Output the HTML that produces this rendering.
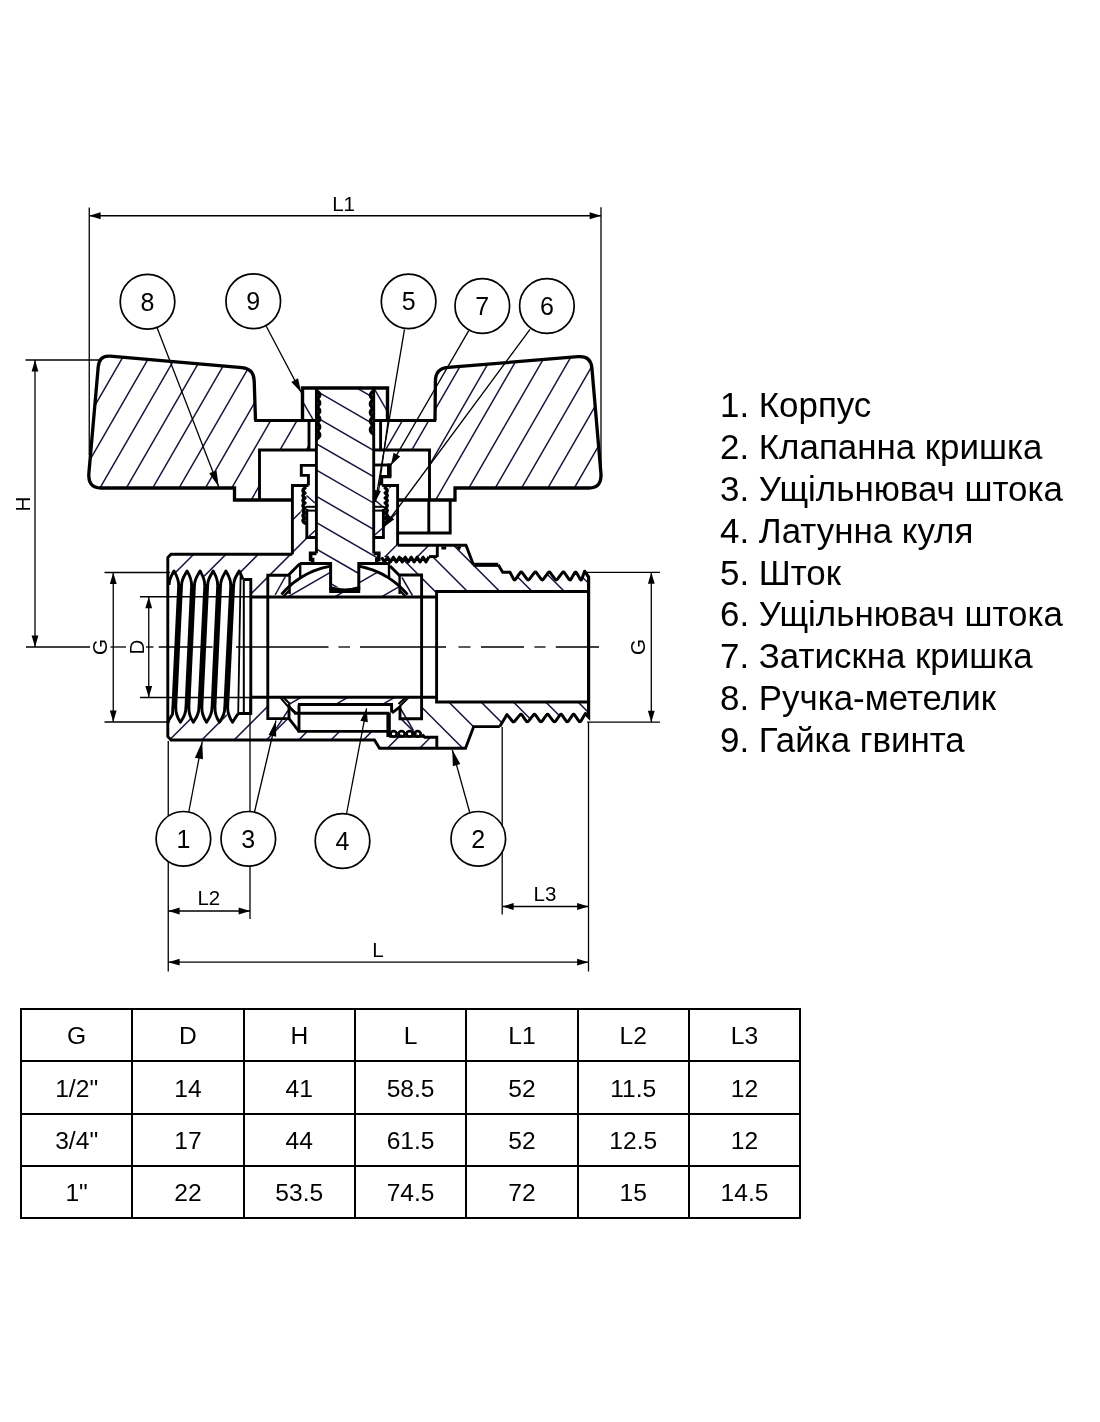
<!DOCTYPE html>
<html lang="uk"><head><meta charset="utf-8"><title>Кран кульовий</title>
<style>
html,body{margin:0;padding:0;background:#fff;}
body{width:1100px;height:1422px;position:relative;overflow:hidden;font-family:"Liberation Sans",Arial,sans-serif;color:#000;}
#dwg{position:absolute;left:0;top:0;will-change:transform;}
#dwg text{font-family:"Liberation Sans",Arial,sans-serif;fill:#000;}
#legend{position:absolute;left:720px;top:384.3px;margin:0;padding:0;list-style:none;font-size:34.9px;line-height:41.9px;white-space:nowrap;letter-spacing:0;will-change:transform;}
#legend li{margin:0;padding:0;height:41.9px;}
#spec{position:absolute;left:20.2px;top:1007.8px;border-collapse:collapse;table-layout:fixed;width:781.2px;height:211.3px;will-change:transform;}
#spec td{border:2px solid #000;padding:0;text-align:center;vertical-align:middle;font-size:24.6px;line-height:1;}
#spec td span{position:relative;top:1.5px;}
</style></head><body>
<svg id="dwg" width="1100" height="1422" viewBox="0 0 1100 1422">
<defs>
<clipPath id="c1"><polygon points="255.5,420.5 254.2,380 253,373 249,369.2 244,367.9 109,356.1 103.5,356.8 99.6,360.5 98.3,366 88.9,474 89.8,481 93.5,486 99.5,488 234.5,488 234.5,500 259.5,500 259.5,450 309,450 309,420.5"/></clipPath>
<clipPath id="c2"><polygon points="435,420.5 435.4,380 436.6,373.5 440.5,369.3 446,367.6 579,356.6 585,357.2 589.6,360.8 591.7,366.5 600.9,474 600,481 596.5,486 590.5,488 455,488 455,500 429.5,500 429.5,450 381,450 381,420.5"/></clipPath>
<clipPath id="c3"><polygon points="316.4,387.6 373.7,387.6 373.7,553.4 379.3,553.4 379.3,560 377,560 377,564 358.6,564 358.6,587.5 330.8,587.5 330.8,564 312.5,564 312.5,560 310.1,560 310.1,553.4 316.4,553.4"/></clipPath>
<clipPath id="c4"><polygon points="302,387.6 316.4,387.6 316.4,420.5 302,420.5"/></clipPath>
<clipPath id="c5"><polygon points="373.7,387.6 388,387.6 388,420.5 373.7,420.5"/></clipPath>
<clipPath id="c6"><polygon points="167.8,557.5 171,554.2 292.4,554.2 292.4,485.5 300.7,485.5 300.7,523 306.6,523 306.6,537.5 316.4,537.5 316.4,553.4 310.1,553.4 310.1,560 312.5,560 312.5,564 299.5,564 288.3,575.3 267.8,575.3 267.8,597 251,597 251,579.5 243.6,579.5 243.6,576 239.2,571 232.5,579.4 225.9,571 219.4,579.4 213.2,571 206.5,579.4 200.1,571 193.3,579.4 187.1,571 180.4,579.4 174,571 167.8,575"/></clipPath>
<clipPath id="c7"><polygon points="389.4,485.5 397.6,485.5 397.6,545.2 437.3,545.2 437.3,557 379.3,557 379.3,553.4 373.7,553.4 373.7,537.5 383.5,537.5 383.5,523 389.4,523"/></clipPath>
<clipPath id="c8"><polygon points="167.8,736.5 171,740 374.5,740 379.5,748.3 436.8,748.3 436.8,737.2 424.7,737.2 422.2,734.5 388.5,734.5 388.5,731.4 299,731.4 289,718.6 267.8,718.6 267.8,697.3 250.6,697.3 250.6,713.5 243.5,713.5 238,713.8 232.5,722 225.9,713.8 219.4,722 213.2,713.8 206.5,722 200.1,713.8 193.3,722 187.1,713.8 180.4,722 174,713.8 167.8,720"/></clipPath>
<clipPath id="c9"><polygon points="437.3,545.2 466,545.2 473.4,564.8 498.2,564.8 502.7,572.3 510,572.3 514.5,580.8 521.2,571.2 528.2,580.8 535.4,571.2 542.3,580.8 549.2,571.2 556.2,580.8 563.4,571.2 570,580.8 575.6,571.2 581.2,580.8 584.6,571.2 588.6,577 588.6,591.5 436.6,591.5 436.6,597 421.6,597 421.6,575 399,575 390,566 390,557 437.3,557"/></clipPath>
<clipPath id="c10"><polygon points="436.8,748.3 465.5,748.3 473.7,726.6 499.8,726.6 507,714.6 513.6,722.6 521,713.6 527.3,722.6 534.5,713.6 541,722.6 547.5,713.6 554.5,722.6 561,713.6 567.3,722.6 573.6,713.6 580,722.6 585.4,713.6 588.6,717 588.6,702 436.4,702 436.4,697.2 421.5,697.2 421.5,718.7 400,718.7 391.6,729 391.6,734.5 422.2,734.5 424.7,737.2 436.8,737.2"/></clipPath>
<clipPath id="c11"><polygon points="280.3,597 283.91,591.75 287.51,588.04 291.12,584.75 294.73,581.83 298.34,579.23 301.94,576.91 305.55,574.84 309.16,573.01 312.76,571.39 316.37,569.98 319.98,568.75 323.59,567.71 327.19,566.85 330.8,566.15 330.8,591.5 358.6,591.5 358.6,566.22 362.17,566.93 365.74,567.8 369.31,568.84 372.89,570.07 376.46,571.48 380.03,573.1 383.6,574.92 387.17,576.98 390.74,579.28 394.31,581.87 397.89,584.76 401.46,588.01 405.03,591.68 408.6,595.86 408.6,597"/></clipPath>
<clipPath id="c12"><polygon points="282,697.3 407,697.3 399,705 392,705 392,704.5 298,704.5 289,706"/></clipPath>
</defs>
<path d="M58.22,469.09 L150.67,308.96 M77.98,480.5 L170.43,320.37 M97.74,491.91 L190.19,331.78 M117.5,503.32 L209.95,343.19 M137.27,514.73 L229.72,354.6 M157.03,526.14 L249.48,366.01 M176.79,537.55 L269.24,377.42 M196.55,548.96 L289.01,388.83 M216.32,560.37 L308.77,400.24 M236.08,571.78 L328.53,411.65" stroke="#19173f" stroke-width="1.5" fill="none" clip-path="url(#c1)"/>
<path d="M373.31,471.02 L477.02,291.39 M393.07,482.43 L496.78,302.8 M412.83,493.84 L516.54,314.21 M432.59,505.25 L536.3,325.62 M452.36,516.66 L556.07,337.03 M472.12,528.07 L575.83,348.44 M491.88,539.48 L595.59,359.85 M511.64,550.89 L615.35,371.26 M531.41,562.3 L635.12,382.67" stroke="#19173f" stroke-width="1.5" fill="none" clip-path="url(#c2)"/>
<path d="M323.71,368.94 L450.74,442.28 M312.31,388.68 L439.34,462.02 M300.91,408.43 L427.94,481.77 M289.51,428.18 L416.54,501.52 M278.11,447.92 L405.14,521.26 M266.71,467.67 L393.74,541.01 M255.31,487.41 L382.34,560.75 M243.91,507.16 L370.94,580.5 M232.51,526.9 L359.54,600.24" stroke="#19173f" stroke-width="1.5" fill="none" clip-path="url(#c3)"/>
<path d="M294.96,388.2 L315.8,424.31" stroke="#19173f" stroke-width="1.5" fill="none" clip-path="url(#c4)"/>
<path d="M372.12,385.05 L392.94,421.11" stroke="#19173f" stroke-width="1.5" fill="none" clip-path="url(#c5)"/>
<path d="M168.28,579.72 L283.72,464.28 M184.43,595.87 L299.87,480.43 M200.58,612.02 L316.02,496.58 M216.73,628.17 L332.17,512.73 M232.88,644.32 L348.32,528.88" stroke="#19173f" stroke-width="1.5" fill="none" clip-path="url(#c6)"/>
<path d="M346.63,530.57 L396.77,480.43 M362.78,546.72 L412.92,496.58 M378.93,562.87 L429.07,512.73 M395.08,579.02 L445.22,528.88" stroke="#19173f" stroke-width="1.5" fill="none" clip-path="url(#c7)"/>
<path d="M168.13,741.37 L306.67,602.83 M184.28,757.52 L322.82,618.98 M200.43,773.67 L338.97,635.13 M216.58,789.82 L355.12,651.28 M232.73,805.97 L371.27,667.43 M248.88,822.12 L387.42,683.58 M265.03,838.27 L403.57,699.73 M281.18,854.43 L419.73,715.88 M297.33,870.58 L435.88,732.03" stroke="#19173f" stroke-width="1.5" fill="none" clip-path="url(#c8)"/>
<path d="M473.98,468.78 L594.77,589.57 M457.83,484.93 L578.62,605.72 M441.68,501.08 L562.47,621.87 M425.53,517.23 L546.32,638.02 M409.38,533.38 L530.17,654.17 M393.23,549.53 L514.02,670.32" stroke="#19173f" stroke-width="1.5" fill="none" clip-path="url(#c9)"/>
<path d="M495.23,619.23 L592.92,716.92 M479.08,635.38 L576.77,733.07 M462.93,651.53 L560.62,749.22 M446.78,667.68 L544.47,765.37 M430.63,683.83 L528.32,781.52 M414.48,699.98 L512.17,797.67 M398.33,716.13 L496.02,813.82" stroke="#19173f" stroke-width="1.5" fill="none" clip-path="url(#c10)"/>
<path d="M279.55,601.7 L381.47,542.86 M291.25,621.97 L393.17,563.13 M302.95,642.23 L404.87,583.39" stroke="#19173f" stroke-width="1.5" fill="none" clip-path="url(#c11)"/>
<path d="M284.2,707.1 L383.14,649.98 M295.9,727.37 L394.84,670.24 M307.6,747.63 L406.54,690.51" stroke="#19173f" stroke-width="1.5" fill="none" clip-path="url(#c12)"/>
<line x1="89.25" y1="207.5" x2="89.25" y2="455" stroke="#000" stroke-width="1.3" />
<line x1="601" y1="207.3" x2="601" y2="476" stroke="#000" stroke-width="1.3" />
<line x1="89.25" y1="215.75" x2="601" y2="215.75" stroke="#000" stroke-width="1.3" />
<polygon points="89.25,215.75 100.65,212.35 100.65,219.15" fill="#000"/>
<polygon points="601,215.75 589.6,219.15 589.6,212.35" fill="#000"/>
<text x="343.6" y="211" font-size="20.5" text-anchor="middle">L1</text>
<line x1="25.5" y1="360" x2="100" y2="360" stroke="#000" stroke-width="1.3" />
<line x1="26" y1="647" x2="90" y2="647" stroke="#000" stroke-width="1.3" />
<line x1="35" y1="360" x2="35" y2="647" stroke="#000" stroke-width="1.3" />
<polygon points="35,360 38.4,371.4 31.6,371.4" fill="#000"/>
<polygon points="35,647 31.6,635.6 38.4,635.6" fill="#000"/>
<text x="29.5" y="504" font-size="20.5" text-anchor="middle" transform="rotate(-90 29.5 504)">H</text>
<line x1="104.5" y1="572.5" x2="170" y2="572.5" stroke="#000" stroke-width="1.3" />
<line x1="104.5" y1="722" x2="170" y2="722" stroke="#000" stroke-width="1.3" />
<line x1="113.25" y1="572.5" x2="113.25" y2="722" stroke="#000" stroke-width="1.3" />
<polygon points="113.25,572.5 116.65,583.9 109.85,583.9" fill="#000"/>
<polygon points="113.25,722 109.85,710.6 116.65,710.6" fill="#000"/>
<text x="107" y="647" font-size="20.5" text-anchor="middle" transform="rotate(-90 107 647)">G</text>
<line x1="140" y1="596.75" x2="251" y2="596.75" stroke="#000" stroke-width="1.3" />
<line x1="140" y1="697.5" x2="251" y2="697.5" stroke="#000" stroke-width="1.3" />
<line x1="148.75" y1="596.75" x2="148.75" y2="697.5" stroke="#000" stroke-width="1.3" />
<polygon points="148.75,596.75 152.15,608.15 145.35,608.15" fill="#000"/>
<polygon points="148.75,697.5 145.35,686.1 152.15,686.1" fill="#000"/>
<text x="143.7" y="647" font-size="20.5" text-anchor="middle" transform="rotate(-90 143.7 647)">D</text>
<line x1="587" y1="572.4" x2="660" y2="572.4" stroke="#000" stroke-width="1.3" />
<line x1="587" y1="722.2" x2="660" y2="722.2" stroke="#000" stroke-width="1.3" />
<line x1="651.3" y1="572.4" x2="651.3" y2="722.2" stroke="#000" stroke-width="1.3" />
<polygon points="651.3,572.4 654.7,583.8 647.9,583.8" fill="#000"/>
<polygon points="651.3,722.2 647.9,710.8 654.7,710.8" fill="#000"/>
<text x="645" y="647" font-size="20.5" text-anchor="middle" transform="rotate(-90 645 647)">G</text>
<line x1="110.5" y1="647" x2="126" y2="647" stroke="#000" stroke-width="1.3" />
<line x1="146" y1="647" x2="153.5" y2="647" stroke="#000" stroke-width="1.3" />
<line x1="158.75" y1="647" x2="212.5" y2="647" stroke="#000" stroke-width="1.3" />
<line x1="236" y1="647" x2="328.5" y2="647" stroke="#000" stroke-width="1.3" />
<line x1="338.5" y1="647" x2="350" y2="647" stroke="#000" stroke-width="1.3" />
<line x1="360" y1="647" x2="446" y2="647" stroke="#000" stroke-width="1.3" />
<line x1="458.5" y1="647" x2="470.5" y2="647" stroke="#000" stroke-width="1.3" />
<line x1="481" y1="647" x2="524" y2="647" stroke="#000" stroke-width="1.3" />
<line x1="534.4" y1="647" x2="545.5" y2="647" stroke="#000" stroke-width="1.3" />
<line x1="555.8" y1="647" x2="599" y2="647" stroke="#000" stroke-width="1.3" />
<line x1="168.25" y1="741" x2="168.25" y2="971.5" stroke="#000" stroke-width="1.3" />
<line x1="250" y1="698" x2="250" y2="919" stroke="#000" stroke-width="1.3" />
<line x1="168.25" y1="911" x2="250" y2="911" stroke="#000" stroke-width="1.3" />
<polygon points="168.25,911 179.65,907.6 179.65,914.4" fill="#000"/>
<polygon points="250,911 238.6,914.4 238.6,907.6" fill="#000"/>
<text x="208.8" y="904.7" font-size="20.5" text-anchor="middle">L2</text>
<line x1="502.2" y1="727" x2="502.2" y2="914.5" stroke="#000" stroke-width="1.3" />
<line x1="588.5" y1="722" x2="588.5" y2="971.5" stroke="#000" stroke-width="1.3" />
<line x1="502.2" y1="906.5" x2="588.5" y2="906.5" stroke="#000" stroke-width="1.3" />
<polygon points="502.2,906.5 513.6,903.1 513.6,909.9" fill="#000"/>
<polygon points="588.5,906.5 577.1,909.9 577.1,903.1" fill="#000"/>
<text x="545" y="901" font-size="20.5" text-anchor="middle">L3</text>
<line x1="168.25" y1="962.2" x2="588.5" y2="962.2" stroke="#000" stroke-width="1.3" />
<polygon points="168.25,962.2 179.65,958.8 179.65,965.6" fill="#000"/>
<polygon points="588.5,962.2 577.1,965.6 577.1,958.8" fill="#000"/>
<text x="378" y="956.8" font-size="20.5" text-anchor="middle">L</text>
<path d="M255.5,420.5 L254.2,381 Q253.8,368.8 242,367.7 L110,356.1 Q99.3,355.2 98.2,367 L88.9,473 Q87.6,488 101,488 L234.5,488 L234.5,500 L292.4,500" fill="none" stroke="#000" stroke-width="3.3" stroke-linejoin="miter"/>
<path d="M435,420.5 L435.4,381 Q435.6,368.4 448,367.4 L578,356.7 Q590.8,355.6 591.9,368 L600.9,473 Q602.2,488 589,488 L455,488 L455,500 L397.6,500" fill="none" stroke="#000" stroke-width="3.3" stroke-linejoin="miter"/>
<polyline points="254.3,420.5 316.4,420.5" fill="none" stroke="#000" stroke-width="2.9" stroke-linejoin="miter"/>
<polyline points="309,420.5 309,450" fill="none" stroke="#000" stroke-width="2.9" stroke-linejoin="miter"/>
<polyline points="436.2,420.5 373.7,420.5" fill="none" stroke="#000" stroke-width="2.9" stroke-linejoin="miter"/>
<polyline points="380.6,420.5 380.6,450" fill="none" stroke="#000" stroke-width="2.9" stroke-linejoin="miter"/>
<polyline points="259.5,500 259.5,450 316.4,450" fill="none" stroke="#000" stroke-width="2.9" stroke-linejoin="miter"/>
<polyline points="429.5,500 429.5,450 373.7,450" fill="none" stroke="#000" stroke-width="2.9" stroke-linejoin="miter"/>
<polyline points="397.6,533 450.2,533 450.2,500" fill="none" stroke="#000" stroke-width="2.9" stroke-linejoin="miter"/>
<line x1="428.8" y1="500" x2="428.8" y2="533" stroke="#000" stroke-width="2.9" />
<polyline points="302.5,420.5 302.5,388 387.5,388 387.5,420.5" fill="none" stroke="#000" stroke-width="3.4" stroke-linejoin="miter"/>
<polyline points="316.4,387.6 316.4,553.4" fill="none" stroke="#000" stroke-width="2.9" stroke-linejoin="miter"/>
<polyline points="373.7,387.6 373.7,553.4" fill="none" stroke="#000" stroke-width="2.9" stroke-linejoin="miter"/>
<polyline points="316.4,553.4 310.6,553.4 310.6,559.5 312.6,559.5 312.6,564" fill="none" stroke="#000" stroke-width="3.6" stroke-linejoin="miter"/>
<polyline points="373.7,553.4 378.8,553.4 378.8,559.5 376.8,559.5 376.8,564" fill="none" stroke="#000" stroke-width="3.6" stroke-linejoin="miter"/>
<polyline points="299.8,563.6 330.6,563.6 330.6,590" fill="none" stroke="#000" stroke-width="3" stroke-linejoin="miter"/>
<polyline points="358.8,590 358.8,563.6 390,563.6" fill="none" stroke="#000" stroke-width="3" stroke-linejoin="miter"/>
<path d="M329.2,593 L329.2,586.6 L332,586.6 Q344.8,590.6 357.4,586.6 L360.2,586.6 L360.2,593 Z" fill="#000"/>
<path d="M316.8,391 Q322.6,395 316.8,399 Q322.6,403 316.8,407 Q322.6,411 316.8,415 Q322.6,419 316.8,423 Q322.6,427 316.8,431 Q322.6,435 316.8,439" fill="none" stroke="#000" stroke-width="3.4" stroke-linejoin="round" stroke-linecap="round"/>
<path d="M373.3,391 Q367.5,395.3 373.3,399.6 Q367.5,403.9 373.3,408.2 Q367.5,412.5 373.3,416.8 Q367.5,421.1 373.3,425.4 Q367.5,429.7 373.3,434" fill="none" stroke="#000" stroke-width="3.4" stroke-linejoin="round" stroke-linecap="round"/>
<polyline points="316.4,465.4 301.3,465.4 301.3,475.4 308.4,475.4 308.4,485.5" fill="none" stroke="#000" stroke-width="2.9" stroke-linejoin="miter"/>
<polyline points="373.7,465 391,465" fill="none" stroke="#000" stroke-width="2.9" stroke-linejoin="miter"/>
<polyline points="389.3,463.6 389.3,476.4" fill="none" stroke="#000" stroke-width="4.6" stroke-linejoin="miter"/>
<polyline points="391.4,476.6 381.6,476.6 381.6,485.5" fill="none" stroke="#000" stroke-width="3.2" stroke-linejoin="miter"/>
<polyline points="308.4,485.5 292.4,485.5 292.4,554.2" fill="none" stroke="#000" stroke-width="2.9" stroke-linejoin="miter"/>
<polyline points="382.2,485.5 397.6,485.5 397.6,545.2" fill="none" stroke="#000" stroke-width="2.9" stroke-linejoin="miter"/>
<path d="M304.9,488 Q301.1,490.5 304.9,493 Q301.1,495.5 304.9,498 Q301.1,500.5 304.9,503 Q301.1,505.5 304.9,508 Q301.1,510.5 304.9,513 Q301.1,515.5 304.9,518 Q301.1,520.5 304.9,523" fill="none" stroke="#000" stroke-width="3.6" stroke-linejoin="round" stroke-linecap="round"/>
<path d="M385.3,488 Q389.1,490.5 385.3,493 Q389.1,495.5 385.3,498 Q389.1,500.5 385.3,503 Q389.1,505.5 385.3,508 Q389.1,510.5 385.3,513 Q389.1,515.5 385.3,518 Q389.1,520.5 385.3,523" fill="none" stroke="#000" stroke-width="3.6" stroke-linejoin="round" stroke-linecap="round"/>
<polyline points="306.8,509 306.8,537.5 316.4,537.5" fill="none" stroke="#000" stroke-width="2.9" stroke-linejoin="miter"/>
<polyline points="383.4,509 383.4,537.5 373.7,537.5" fill="none" stroke="#000" stroke-width="2.9" stroke-linejoin="miter"/>
<line x1="306" y1="506.8" x2="316.4" y2="506.8" stroke="#000" stroke-width="2" />
<line x1="306" y1="510.6" x2="316.4" y2="510.6" stroke="#000" stroke-width="2" />
<line x1="373.7" y1="506.8" x2="384.2" y2="506.8" stroke="#000" stroke-width="2" />
<line x1="373.7" y1="510.6" x2="384.2" y2="510.6" stroke="#000" stroke-width="2" />
<path d="M306.5,495.5 L315,503 M308.2,537 L315.2,530.5 M375.5,500.7 L382,506 M374.8,535 L382.6,528" stroke="#19173f" stroke-width="1.5" fill="none"/>
<path d="M275.1,595 L285.3,576.7 M402,577.5 L412.5,595.5 M276.2,728.6 L288,710.5 M400.8,709 L413.3,730.2" stroke="#19173f" stroke-width="1.5" fill="none"/>
<polyline points="292.4,554.2 171,554.2 167.8,557.5 167.8,736.5 171,740 374.5,740 379.5,748.3 465.5,748.3 473.7,726.6 499.8,726.6" fill="none" stroke="#000" stroke-width="2.9" stroke-linejoin="miter"/>
<polyline points="397.6,545.2 466,545.2 473.4,564.8" fill="none" stroke="#000" stroke-width="2.9" stroke-linejoin="miter"/>
<polyline points="473.4,564.8 498.2,564.8" fill="none" stroke="#000" stroke-width="4.1" stroke-linejoin="miter"/>
<polyline points="437.3,545.2 437.3,557" fill="none" stroke="#000" stroke-width="2.9" stroke-linejoin="miter"/>
<polygon points="441.2,546.5 446.4,546.5 446,549.6 441.6,549.6" fill="#000"/>
<polygon points="455.6,546.5 461.6,546.5 459.4,550.6" fill="#000"/>
<polyline points="437.3,556.6 429,556.6" fill="none" stroke="#000" stroke-width="3" stroke-linejoin="miter"/>
<polyline points="429,556.8 426.03,561.8 423.06,557.3 420.09,561.8 417.12,557.3 414.16,561.8 411.19,557.3 408.22,561.8 405.25,557.3 402.28,561.8 399.31,557.3 396.34,561.8 393.38,557.3 390.41,561.8 387.44,557.3 384.47,561.8 381.5,557.3" fill="none" stroke="#000" stroke-width="3.2" stroke-linejoin="round"/>
<polyline points="436.8,748.3 436.8,737.2 424.7,737.2 422.2,734.5" fill="none" stroke="#000" stroke-width="2.9" stroke-linejoin="miter"/>
<ellipse cx="393.6" cy="733.9" rx="3.1" ry="2.7" fill="none" stroke="#000" stroke-width="2.7"/>
<ellipse cx="401.6" cy="733.9" rx="3.1" ry="2.7" fill="none" stroke="#000" stroke-width="2.7"/>
<ellipse cx="409.6" cy="733.9" rx="3.1" ry="2.7" fill="none" stroke="#000" stroke-width="2.7"/>
<ellipse cx="417.6" cy="733.9" rx="3.1" ry="2.7" fill="none" stroke="#000" stroke-width="2.7"/>
<line x1="389" y1="736.6" x2="423" y2="736.6" stroke="#000" stroke-width="2.4" />
<polyline points="388.6,737 388.6,712.5" fill="none" stroke="#000" stroke-width="4.4" stroke-linejoin="miter"/>
<path d="M510,572.3 L513.74,579.35 Q514.5,580.8 515.64,579.17 L520.06,572.83 Q521.2,571.2 522.39,572.83 L527.01,579.17 Q528.2,580.8 529.42,579.17 L534.18,572.83 Q535.4,571.2 536.57,572.83 L541.13,579.17 Q542.3,580.8 543.47,579.17 L548.03,572.83 Q549.2,571.2 550.39,572.83 L555.01,579.17 Q556.2,580.8 557.42,579.17 L562.18,572.83 Q563.4,571.2 564.52,572.83 L568.88,579.17 Q570,580.8 570.95,579.17 L574.65,572.83 Q575.6,571.2 576.55,572.83 L580.25,579.17 Q581.2,580.8 581.78,579.17 L584.6,571.2" fill="none" stroke="#000" stroke-width="3" stroke-linejoin="round" stroke-linecap="round"/>
<path d="M507,714.6 L512.48,721.24 Q513.6,722.6 514.86,721.07 L519.74,715.13 Q521,713.6 522.07,715.13 L526.23,721.07 Q527.3,722.6 528.52,721.07 L533.28,715.13 Q534.5,713.6 535.61,715.13 L539.89,721.07 Q541,722.6 542.11,721.07 L546.39,715.13 Q547.5,713.6 548.69,715.13 L553.31,721.07 Q554.5,722.6 555.61,721.07 L559.89,715.13 Q561,713.6 562.07,715.13 L566.23,721.07 Q567.3,722.6 568.37,721.07 L572.53,715.13 Q573.6,713.6 574.69,715.13 L578.91,721.07 Q580,722.6 580.92,721.07 L585.4,713.6" fill="none" stroke="#000" stroke-width="3" stroke-linejoin="round" stroke-linecap="round"/>
<polyline points="498.2,564.8 502.7,572.3 510,572.3" fill="none" stroke="#000" stroke-width="2.9" stroke-linejoin="miter"/>
<polyline points="584.6,571.2 588.6,577 588.6,717 585.4,713.6" fill="none" stroke="#000" stroke-width="3.2" stroke-linejoin="miter"/>
<polyline points="499.8,726.6 507,714.6" fill="none" stroke="#000" stroke-width="2.9" stroke-linejoin="miter"/>
<polyline points="588.6,591.5 436.6,591.5 436.6,702 588.6,702" fill="none" stroke="#000" stroke-width="2.9" stroke-linejoin="miter"/>
<line x1="251" y1="597" x2="436.6" y2="597" stroke="#000" stroke-width="2.9" />
<line x1="251" y1="697.3" x2="436.6" y2="697.3" stroke="#000" stroke-width="2.9" />
<polyline points="299.5,564 288.3,575.3 267.8,575.3 267.8,718.6 289,718.6 289,704.5" fill="none" stroke="#000" stroke-width="2.9" stroke-linejoin="miter"/>
<polyline points="390,566 399,575 421.6,575 421.6,718.7 400,718.7 400,706" fill="none" stroke="#000" stroke-width="2.9" stroke-linejoin="miter"/>
<polyline points="289.6,575.3 289.6,594" fill="none" stroke="#000" stroke-width="2.4" stroke-linejoin="miter"/>
<polyline points="399.6,575.3 399.6,594" fill="none" stroke="#000" stroke-width="2.4" stroke-linejoin="miter"/>
<polyline points="300.2,563 300.2,577" fill="none" stroke="#000" stroke-width="2.4" stroke-linejoin="miter"/>
<polyline points="389,563 389,577" fill="none" stroke="#000" stroke-width="2.4" stroke-linejoin="miter"/>
<path d="M281.5,594.51 L285.02,590.55 L288.54,587.06 L292.06,583.96 L295.59,581.19 L299.11,578.71 L302.63,576.5 L306.15,574.52 L309.67,572.76 L313.19,571.21 L316.71,569.85 L320.24,568.67 L323.76,567.67 L327.28,566.83 L330.8,566.15" fill="none" stroke="#000" stroke-width="2.9" />
<path d="M358.6,566.22 L362.1,566.91 L365.6,567.76 L369.1,568.78 L372.6,569.97 L376.1,571.33 L379.6,572.89 L383.1,574.65 L386.6,576.63 L390.1,578.85 L393.6,581.33 L397.1,584.09 L400.6,587.19 L404.1,590.68 L407.6,594.63" fill="none" stroke="#000" stroke-width="2.9" />
<path d="M283.2,597 L289.6,590" fill="none" stroke="#000" stroke-width="2.2" />
<path d="M405.8,597 L399.6,590" fill="none" stroke="#000" stroke-width="2.2" />
<polyline points="298,704.5 391.6,704.5 391.6,712.5" fill="none" stroke="#000" stroke-width="2.9" stroke-linejoin="miter"/>
<polyline points="299,704.5 299,731.4 388.5,731.4" fill="none" stroke="#000" stroke-width="2.9" stroke-linejoin="miter"/>
<line x1="294.4" y1="713.3" x2="389" y2="713.3" stroke="#000" stroke-width="2.9" />
<polyline points="289,706.8 296,713.6" fill="none" stroke="#000" stroke-width="2.9" stroke-linejoin="miter"/>
<polyline points="289,718.6 299,731.4" fill="none" stroke="#000" stroke-width="2.9" stroke-linejoin="miter"/>
<polyline points="400,706.8 392,712.8" fill="none" stroke="#000" stroke-width="2.9" stroke-linejoin="miter"/>
<path d="M280.3,697.5 L288.3,706.8 M283.5,697.5 L290,704" fill="none" stroke="#000" stroke-width="2" />
<path d="M408.6,697.5 L399.5,706.5 M405.5,697.5 L398.5,704" fill="none" stroke="#000" stroke-width="2" />
<path d="M169,585 C169.1,578.5 171.7,575.2 174,571 C176.3,575.2 178.59,578.5 178.69,585" fill="none" stroke="#000" stroke-width="2.9" stroke-linejoin="round"/>
<path d="M181.59,585 C181.69,578.5 184.8,575.2 187.1,571 C189.4,575.2 191.5,578.5 191.6,585" fill="none" stroke="#000" stroke-width="2.9" stroke-linejoin="round"/>
<path d="M194.5,585 C194.6,578.5 197.8,575.2 200.1,571 C202.4,575.2 204.69,578.5 204.79,585" fill="none" stroke="#000" stroke-width="2.9" stroke-linejoin="round"/>
<path d="M207.69,585 C207.79,578.5 210.9,575.2 213.2,571 C215.5,575.2 217.6,578.5 217.7,585" fill="none" stroke="#000" stroke-width="2.9" stroke-linejoin="round"/>
<path d="M220.6,585 C220.7,578.5 223.6,575.2 225.9,571 C228.2,575.2 230.68,578.5 230.78,585" fill="none" stroke="#000" stroke-width="2.9" stroke-linejoin="round"/>
<path d="M233.68,585 C233.78,578.5 236.9,575.2 239.2,571 C241.5,575.2 241,575 243,579.5" fill="none" stroke="#000" stroke-width="2.9" stroke-linejoin="round"/>
<path d="M175.75,707.5 C175.55,714.5 178,718.6 180.4,722.3 C182.8,718.6 186.14,714.5 185.94,707.5" fill="none" stroke="#000" stroke-width="2.9" stroke-linejoin="round"/>
<path d="M188.84,707.5 C188.64,714.5 190.9,718.6 193.3,722.3 C195.7,718.6 199.15,714.5 198.95,707.5" fill="none" stroke="#000" stroke-width="2.9" stroke-linejoin="round"/>
<path d="M201.85,707.5 C201.65,714.5 204.1,718.6 206.5,722.3 C208.9,718.6 212.24,714.5 212.04,707.5" fill="none" stroke="#000" stroke-width="2.9" stroke-linejoin="round"/>
<path d="M214.94,707.5 C214.74,714.5 217,718.6 219.4,722.3 C221.8,718.6 224.96,714.5 224.76,707.5" fill="none" stroke="#000" stroke-width="2.9" stroke-linejoin="round"/>
<path d="M227.66,707.5 C227.46,714.5 230.1,718.6 232.5,722.3 C234.9,718.6 236.5,716 238.2,713.6" fill="none" stroke="#000" stroke-width="2.9" stroke-linejoin="round"/>
<path d="M168.6,720.5 L172.54,714.2 L172.85,707.5" fill="none" stroke="#000" stroke-width="2.9" stroke-linejoin="round"/>
<line x1="180.19" y1="584" x2="174.25" y2="708.5" stroke="#000" stroke-width="5.7" />
<line x1="193.1" y1="584" x2="187.34" y2="708.5" stroke="#000" stroke-width="5.7" />
<line x1="206.29" y1="584" x2="200.35" y2="708.5" stroke="#000" stroke-width="5.7" />
<line x1="219.2" y1="584" x2="213.44" y2="708.5" stroke="#000" stroke-width="5.7" />
<line x1="232.28" y1="584" x2="226.16" y2="708.5" stroke="#000" stroke-width="5.7" />
<line x1="240.6" y1="575" x2="238.2" y2="713.6" stroke="#000" stroke-width="1.8" />
<polyline points="243.6,579.5 250.8,579.5 250.8,713.5 238.2,713.5" fill="none" stroke="#000" stroke-width="2.9" stroke-linejoin="miter"/>
<line x1="243.8" y1="579.5" x2="243.8" y2="713.5" stroke="#000" stroke-width="2" />
<line x1="157" y1="327.5" x2="218.75" y2="487" stroke="#000" stroke-width="1.3" />
<polygon points="218.75,487 209.23,473.21 216.5,470.39" fill="#000"/>
<line x1="266.25" y1="326.25" x2="301.2" y2="392.5" stroke="#000" stroke-width="1.3" />
<polygon points="301.2,392.5 291.31,381.89 298.03,378.34" fill="#000"/>
<line x1="404.5" y1="329.4" x2="375.3" y2="502" stroke="#000" stroke-width="1.3" />
<polygon points="375.3,502 373.62,489.75 380.92,490.98" fill="#000"/>
<line x1="388.5" y1="418" x2="378.6" y2="491" stroke="#000" stroke-width="1.3" />
<line x1="468.6" y1="330.8" x2="390.8" y2="465.2" stroke="#000" stroke-width="1.3" />
<polygon points="390.8,465.2 393.62,452.74 400.2,456.55" fill="#000"/>
<line x1="530" y1="329.4" x2="383.5" y2="527.5" stroke="#000" stroke-width="1.3" />
<polygon points="383.5,527.5 388.17,514.79 394.29,519.31" fill="#000"/>
<line x1="188.75" y1="812" x2="202.2" y2="741.5" stroke="#000" stroke-width="1.3" />
<polygon points="202.2,741.5 202.99,759.26 194.93,757.73" fill="#000"/>
<line x1="254.5" y1="812" x2="276" y2="720.5" stroke="#000" stroke-width="1.3" />
<polygon points="276,720.5 276.21,736.68 268.61,734.89" fill="#000"/>
<line x1="346.5" y1="814" x2="366.6" y2="708.4" stroke="#000" stroke-width="1.3" />
<polygon points="366.6,708.4 367.83,722.27 360.36,720.85" fill="#000"/>
<line x1="469.6" y1="812" x2="452.3" y2="749.8" stroke="#000" stroke-width="1.3" />
<polygon points="452.3,749.8 460.32,764.07 452.8,766.16" fill="#000"/>
<circle cx="147.5" cy="301.75" r="27.3" fill="#fff" stroke="#000" stroke-width="1.7"/>
<text x="147.5" y="310.65" font-size="25" text-anchor="middle">8</text>
<circle cx="253.25" cy="301.25" r="27.3" fill="#fff" stroke="#000" stroke-width="1.7"/>
<text x="253.25" y="310.15" font-size="25" text-anchor="middle">9</text>
<circle cx="408.6" cy="301.4" r="27.3" fill="#fff" stroke="#000" stroke-width="1.7"/>
<text x="408.6" y="310.3" font-size="25" text-anchor="middle">5</text>
<circle cx="482.3" cy="306" r="27.3" fill="#fff" stroke="#000" stroke-width="1.7"/>
<text x="482.3" y="314.9" font-size="25" text-anchor="middle">7</text>
<circle cx="546.9" cy="306" r="27.3" fill="#fff" stroke="#000" stroke-width="1.7"/>
<text x="546.9" y="314.9" font-size="25" text-anchor="middle">6</text>
<circle cx="183.4" cy="838.8" r="27.3" fill="#fff" stroke="#000" stroke-width="1.7"/>
<text x="183.4" y="847.7" font-size="25" text-anchor="middle">1</text>
<circle cx="248.3" cy="838.8" r="27.3" fill="#fff" stroke="#000" stroke-width="1.7"/>
<text x="248.3" y="847.7" font-size="25" text-anchor="middle">3</text>
<circle cx="342.5" cy="841" r="27.3" fill="#fff" stroke="#000" stroke-width="1.7"/>
<text x="342.5" y="849.9" font-size="25" text-anchor="middle">4</text>
<circle cx="478.3" cy="838.8" r="27.3" fill="#fff" stroke="#000" stroke-width="1.7"/>
<text x="478.3" y="847.7" font-size="25" text-anchor="middle">2</text>
</svg>
<ul id="legend">
<li>1. Корпус</li>
<li>2. Клапанна кришка</li>
<li>3. Ущільнювач штока</li>
<li>4. Латунна куля</li>
<li>5. Шток</li>
<li>6. Ущільнювач штока</li>
<li>7. Затискна кришка</li>
<li>8. Ручка-метелик</li>
<li>9. Гайка гвинта</li>
</ul>
<table id="spec">
<tr><td><span>G</span></td><td><span>D</span></td><td><span>H</span></td><td><span>L</span></td><td><span>L1</span></td><td><span>L2</span></td><td><span>L3</span></td></tr>
<tr><td><span>1/2&quot;</span></td><td><span>14</span></td><td><span>41</span></td><td><span>58.5</span></td><td><span>52</span></td><td><span>11.5</span></td><td><span>12</span></td></tr>
<tr><td><span>3/4&quot;</span></td><td><span>17</span></td><td><span>44</span></td><td><span>61.5</span></td><td><span>52</span></td><td><span>12.5</span></td><td><span>12</span></td></tr>
<tr><td><span>1&quot;</span></td><td><span>22</span></td><td><span>53.5</span></td><td><span>74.5</span></td><td><span>72</span></td><td><span>15</span></td><td><span>14.5</span></td></tr>
</table>
</body></html>
